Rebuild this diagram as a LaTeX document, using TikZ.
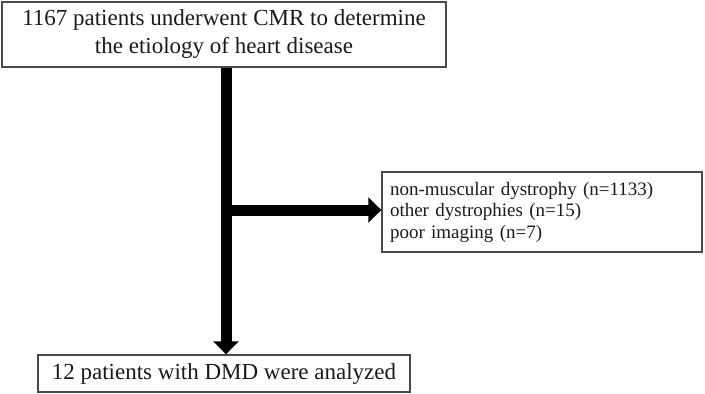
\documentclass[tikz,border=0pt]{standalone}
\usepackage{fontspec}
\setmainfont{Liberation Serif}
\usepackage{tikz}
\usetikzlibrary{positioning, arrows.meta}
\definecolor{frame}{HTML}{4A4A4A}
\definecolor{ink}{HTML}{1A1A1A}
\tikzset{
  box/.style={draw=frame, line width=1.4pt, inner sep=0pt, text=ink,
              align=center, font=\fontsize{23}{28}\selectfont},
  listbox/.style={draw=frame, line width=1.4pt, inner sep=0pt, text=ink,
                  align=left, font=\fontsize{19}{21.5}\selectfont},
  fat/.style={-{Triangle[length=13pt, width=25pt]}, line width=11pt, draw=black},
}
\begin{document}
\begin{tikzpicture}[x=1pt, y=-1pt]
  \useasboundingbox (0,0) rectangle (705,394);
  \node[box, minimum width=444pt, minimum height=65pt] (cmr) at (224,34.5)
        {1167 patients underwent CMR to determine\\the etiology of heart disease};
  \node[box, minimum width=372pt, minimum height=37pt] (dmd) at (224,373.5)
        {12 patients with DMD were analyzed};
  \node[listbox, minimum width=320pt, minimum height=80pt, text width=304pt] (excl)
        at (542,212) {non-muscular dystrophy (n=1133)\\other dystrophies (n=15)\\poor imaging (n=7)};
  \coordinate (split) at (226,210);
  \draw[fat] (split |- cmr.south) -- (split |- dmd.north);
  % excluded patients
  \draw[fat] (split) -- (split -| excl.west);
\end{tikzpicture}
\end{document}
